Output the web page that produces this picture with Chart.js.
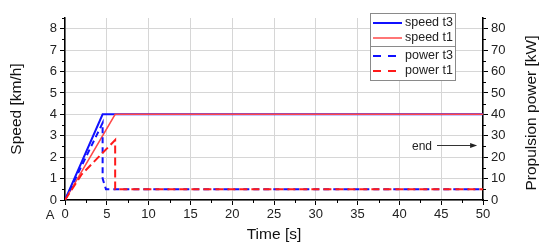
<!DOCTYPE html>
<html>
<head>
<meta charset="utf-8">
<script src="https://cdn.jsdelivr.net/npm/chart.js@4.4.1/dist/chart.umd.min.js"></script>
<style>
html,body{margin:0;padding:0;background:#fff;}
#wrap{width:550px;height:251px;position:relative;}
</style>
</head>
<body>
<div id="wrap"><canvas id="c" width="550" height="251"></canvas></div>
<script>
// ---- data ----
const speedT3Time = [0, 4.5, 50];
const speedT3 = [0, 4, 4];
const speedT1Time = [0, 6, 50];
const speedT1 = [0, 4, 4];
const powerT3Time = [0, 4.5, 4.5, 4.9, 50];
const powerT3 = [0, 36, 10, 5, 5];
const powerT1Time = [0, 2, 6, 6, 50];
const powerT1 = [0, 12, 28, 5, 5];

const timeTicks = [0, 5, 10, 15, 20, 25, 30, 35, 40, 45, 50];
const speedTicks = [0, 1, 2, 3, 4, 5, 6, 7, 8];
const powerTicks = [0, 10, 20, 30, 40, 50, 60, 70, 80];

const seriesNames = ['speed t3', 'speed t1', 'power t3', 'power t1'];

const FONT = 'Liberation Sans, Arial, Helvetica, sans-serif';
const BLUE = '#1010ff';
const RED = '#ff4848';
const RED2 = '#ff1a1a';

function pts(xs, ys) { return xs.map((x, i) => ({x: x, y: ys[i]})); }

const datasets = [
  {label: seriesNames[0], data: pts(speedT3Time, speedT3), borderColor: BLUE, borderWidth: 2, yAxisID: 'y', order: 4},
  {label: seriesNames[1], data: pts(speedT1Time, speedT1), borderColor: RED, borderWidth: 1.5, yAxisID: 'y', order: 3},
  {label: seriesNames[2], data: pts(powerT3Time, powerT3), borderColor: BLUE, borderWidth: 2, borderDash: [6, 4], yAxisID: 'y1', order: 2},
  {label: seriesNames[3], data: pts(powerT1Time, powerT1), borderColor: RED2, borderWidth: 2, borderDash: [8, 4], yAxisID: 'y1', order: 1}
];

const extras = {
  id: 'extras',
  afterDraw(chart) {
    const ctx = chart.ctx;
    const xs = chart.scales.x, ys = chart.scales.y, y1 = chart.scales.y1;
    const a = chart.chartArea;
    ctx.save();
    // minor ticks
    ctx.strokeStyle = '#000';
    ctx.lineWidth = 1;
    ctx.beginPath();
    for (let v = 2.5; v < 50; v += 5) {
      const px = Math.round(xs.getPixelForValue(v)) + 0.5;
      ctx.moveTo(px, a.bottom); ctx.lineTo(px, a.bottom + 3);
    }
    for (let v = 0.5; v <= 8.5; v += 1) {
      const py = Math.round(ys.getPixelForValue(v)) + 0.5;
      ctx.moveTo(a.left, py); ctx.lineTo(a.left - 3, py);
    }
    for (let v = 5; v <= 85; v += 10) {
      const py = Math.round(y1.getPixelForValue(v)) + 0.5;
      ctx.moveTo(a.right, py); ctx.lineTo(a.right + 3, py);
    }
    ctx.stroke();

    // panel letter
    ctx.fillStyle = '#222';
    ctx.font = '13px ' + FONT;
    ctx.textAlign = 'center';
    ctx.textBaseline = 'middle';
    ctx.fillText('A', 50, 215);

    // right axis title
    ctx.save();
    ctx.translate(532, 113);
    ctx.rotate(-Math.PI / 2);
    ctx.font = '15.5px ' + FONT;
    ctx.fillStyle = '#111';
    ctx.fillText('Propulsion power [kW]', 0, 0);
    ctx.restore();

    // end annotation
    const ex = xs.getPixelForValue(42.7), ey = ys.getPixelForValue(2.48);
    ctx.font = '12px ' + FONT;
    ctx.fillStyle = '#222';
    ctx.fillText('end', ex, ey);
    const ax0 = xs.getPixelForValue(44.5), ax1 = xs.getPixelForValue(49.3);
    const ay = Math.round(ys.getPixelForValue(2.57)) + 0.5;
    ctx.strokeStyle = '#333';
    ctx.lineWidth = 1;
    ctx.beginPath(); ctx.moveTo(ax0, ay); ctx.lineTo(ax1 - 5, ay); ctx.stroke();
    ctx.fillStyle = '#222';
    ctx.beginPath(); ctx.moveTo(ax1, ay); ctx.lineTo(ax1 - 7, ay - 2.5); ctx.lineTo(ax1 - 7, ay + 2.5); ctx.closePath(); ctx.fill();

    // legend
    const L = 370.5, T = 13.5, W = 85, H = 67;
    ctx.fillStyle = '#fff';
    ctx.fillRect(L, T, W, H);
    ctx.strokeStyle = '#8a8a8a';
    ctx.lineWidth = 1;
    ctx.strokeRect(L, T, W, H);
    ctx.beginPath(); ctx.moveTo(L, 46.5); ctx.lineTo(L + W, 46.5); ctx.stroke();
    const rows = [23, 38, 56, 71];
    chart.data.datasets.forEach((d, i) => {
      const y = rows[i];
      ctx.strokeStyle = d.borderColor;
      ctx.lineWidth = d.borderWidth;
      ctx.setLineDash(d.borderDash ? [8, 7] : []);
      ctx.beginPath(); ctx.moveTo(373, y); ctx.lineTo(402, y); ctx.stroke();
      ctx.setLineDash([]);
      ctx.fillStyle = '#222';
      ctx.font = '12.5px ' + FONT;
      ctx.textAlign = 'left';
      ctx.fillText(d.label, 405, y);
    });
    ctx.restore();
  }
};

new Chart(document.getElementById('c'), {
  type: 'line',
  data: {datasets: datasets},
  options: {
    responsive: false,
    animation: false,
    layout: {padding: {top: 18, left: 0, right: 0, bottom: 0}},
    elements: {line: {tension: 0, fill: false}, point: {radius: 0}},
    plugins: {legend: {display: false}, tooltip: {enabled: false}},
    scales: {
      x: {
        type: 'linear', min: 0, max: 50,
        afterBuildTicks: s => { s.ticks = timeTicks.map(v => ({value: v})); },
        afterFit: s => { s.height = 51; },
        ticks: {font: {size: 13, family: FONT}, color: '#222', padding: 2, maxRotation: 0, autoSkip: false},
        grid: {color: '#d6d6d6', lineWidth: 1, tickColor: '#000', tickLength: 5},
        border: {color: '#000', width: 1.5},
        title: {display: true, text: 'Time [s]', font: {size: 15.5, family: FONT}, color: '#111', padding: {top: 0, bottom: 7}}
      },
      y: {
        type: 'linear', position: 'left', min: 0, max: 8.5,
        afterBuildTicks: s => { s.ticks = speedTicks.map(v => ({value: v})); },
        afterFit: s => { s.width = 65; },
        ticks: {font: {size: 13, family: FONT}, color: '#222', padding: 3},
        grid: {color: '#d6d6d6', lineWidth: 1, tickColor: '#000', tickLength: 5},
        border: {color: '#000', width: 1.5},
        title: {display: true, text: 'Speed [km/h]', font: {size: 15.5, family: FONT}, color: '#111', padding: {top: 7, bottom: 0}}
      },
      y1: {
        type: 'linear', position: 'right', min: 0, max: 85,
        afterBuildTicks: s => { s.ticks = powerTicks.map(v => ({value: v})); },
        afterFit: s => { s.width = 67; },
        ticks: {font: {size: 13, family: FONT}, color: '#222', padding: 3},
        grid: {drawOnChartArea: false, tickColor: '#000', tickLength: 5},
        border: {color: '#000', width: 1.5}
      }
    }
  },
  plugins: [extras]
});
</script>
</body>
</html>
